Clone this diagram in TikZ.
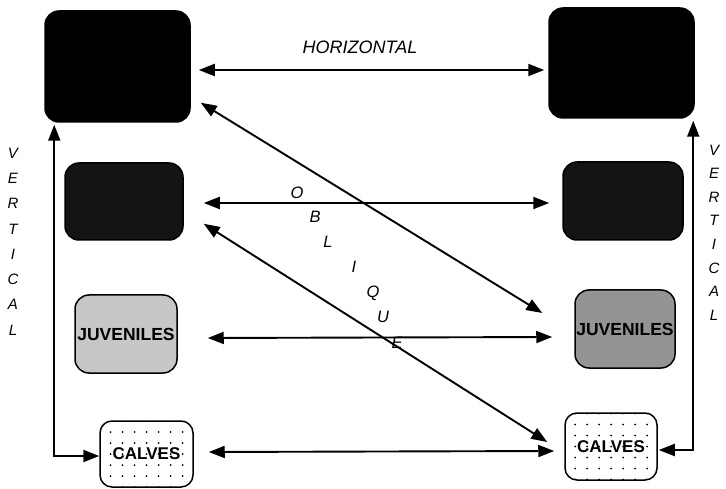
\documentclass[tikz,border=0pt]{standalone}
\usepackage{fontspec}
\setmainfont{Liberation Sans}
\usetikzlibrary{arrows.meta}

\tikzset{
  stagebox/.style={draw=black, line width=1.5pt, rounded corners=14pt, inner sep=0pt},
  solidbox/.style={stagebox, fill=black},
  darkbox/.style={stagebox, fill=black!92},
  lightbox/.style={stagebox, fill=black!22, font=\fontsize{17.5}{17.5}\selectfont\bfseries},
  midbox/.style={stagebox, fill=black!42, font=\fontsize{17.5}{17.5}\selectfont\bfseries},
  dotbox/.style={stagebox, rounded corners=12pt, fill=white,
    font=\fontsize{17}{17}\selectfont\bfseries,
    path picture={
      \foreach \i in {-4,...,4}
        \foreach \j in {-3,...,3}
          \fill[black] (path picture bounding box.center) ++(\i*12,\j*11) circle (1.0);
    }},
  conn/.style={line width=1.9pt, {Triangle[length=16pt,width=12pt]}-{Triangle[length=16pt,width=12pt]}},
  axislabel/.style={font=\fontsize{18}{18}\selectfont\itshape, inner sep=0pt},
  obliquelabel/.style={font=\fontsize{16.5}{16.5}\selectfont\itshape, inner sep=0pt},
  letterlabel/.style={font=\fontsize{15}{15}\selectfont\itshape, inner sep=0pt},
}

\begin{document}
\begin{tikzpicture}[x=1pt, y=-1pt]
\useasboundingbox (0,0) rectangle (726,489);

% left column
\node[solidbox, minimum width=145pt, minimum height=111pt] (a1) at (117.5,66.5) {};
\node[darkbox,  minimum width=118pt, minimum height=77pt]  (a2) at (124,201.5) {};
\node[lightbox, minimum width=102pt, minimum height=78pt]  (a3) at (126,334) {\raisebox{-1pt}{JUVENILES}};
\node[dotbox,   minimum width=93pt,  minimum height=66pt]  (a4) at (146.5,454) {\raisebox{-5pt}{CALVES}};

% right column
\node[solidbox, minimum width=145pt, minimum height=110pt] (b1) at (621.5,63) {};
\node[darkbox,  minimum width=120pt, minimum height=78pt]  (b2) at (623,201) {};
\node[midbox,   minimum width=100pt, minimum height=78pt]  (b3) at (625,329) {JUVENILES};
\node[dotbox,   minimum width=92pt,  minimum height=67pt]  (b4) at (611,446.5) {\raisebox{-3pt}{CALVES}};

% horizontal links
\draw[conn] ([shift={(8,3.5)}]a1.east) -- ([shift={(-4,7)}]b1.west);
\draw[conn] ([shift={(20,1.5)}]a2.east) -- ([shift={(-13,2)}]b2.west);
\draw[conn] ([shift={(30,4)}]a3.east) -- ([shift={(-22,8)}]b3.west);
\draw[conn] ([shift={(15,-2)}]a4.east) -- ([shift={(-10,4.5)}]b4.west);

% oblique links
\draw[conn] ([shift={(10,-20)}]a1.south east) -- ([shift={(-32,-16)}]b3.west);
\draw[conn] ([shift={(20,-17)}]a2.south east) -- ([shift={(-17,-4.5)}]b4.west);

% vertical links
\draw[conn] ([shift={(10,2)}]a1.south west) |- ([yshift=-2]a4.west);
\draw[conn] ([shift={(-1.5,2)}]b1.south east) |- ([shift={(1,3.5)}]b4.east);

% labels
\node[axislabel] (hlab) at (360,47) {HORIZONTAL};

\foreach \ch [count=\k] in {V,E,R,T,I,C,A,L}
  \node[letterlabel] (vl\k) at (13, 153+25.3*\k-25.3) {\ch};
\foreach \ch [count=\k] in {V,E,R,T,I,C,A,L}
  \node[letterlabel] (vr\k) at (714, 150+23.6*\k-23.6) {\ch};

\foreach \ch/\px/\py [count=\k] in {O/297/193, B/315/217, L/328/242, I/354/267, Q/373/293, U/383/317, E/397/343}
  \node[obliquelabel] (ob\k) at (\px,\py) {\ch};
\end{tikzpicture}
\end{document}
